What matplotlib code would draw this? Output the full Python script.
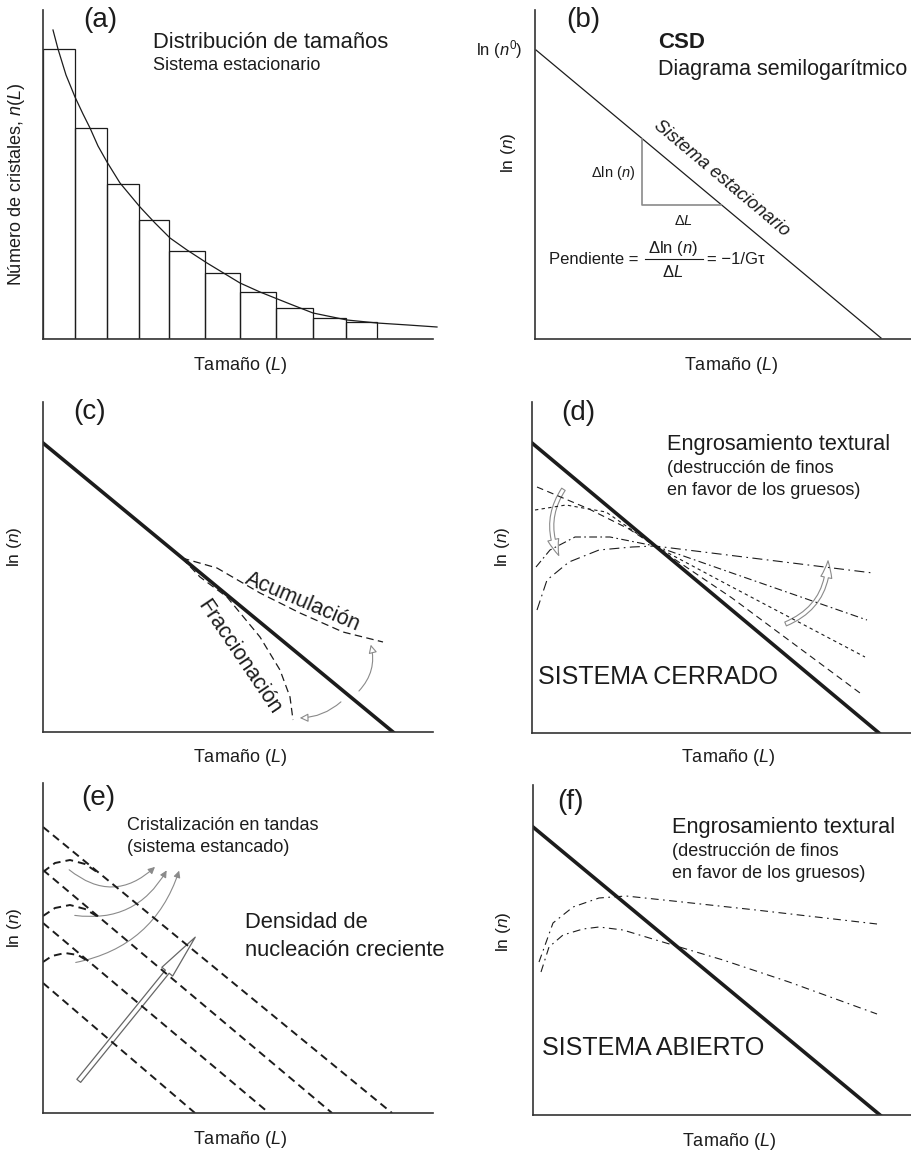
import numpy as np
import matplotlib.pyplot as plt
from matplotlib.patches import FancyArrowPatch

plt.rcParams['font.family'] = ['Liberation Sans', 'DejaVu Sans']
plt.rcParams['mathtext.fontset'] = 'custom'
plt.rcParams['mathtext.rm'] = 'Liberation Sans'
plt.rcParams['mathtext.it'] = 'Liberation Sans:italic'
plt.rcParams['mathtext.bf'] = 'Liberation Sans:bold'

INK = '#1c1c1c'
GREY = '#8a8a8a'

# ---- (a) size distribution (histogram + fitted curve)
bar_edges = [0, 3.2, 6.4, 9.6, 12.6, 16.2, 19.7, 23.3, 27.0, 30.3, 33.4]
bar_heights = [29.0, 21.1, 15.5, 11.9, 8.8, 6.6, 4.7, 3.1, 2.1, 1.7]
curve_a_x = [1.0, 1.5, 2.3, 3.2, 4.0, 4.7, 5.5, 6.4, 7.7, 9.7, 11.2, 12.7,
             14.4, 16.4, 19.7, 21.7, 24.7, 27.0, 30.4, 33.4, 36.5, 39.4]
curve_a_y = [30.9, 29.0, 26.4, 24.2, 22.5, 21.1, 19.3, 17.7, 15.6, 13.2, 11.6, 10.1,
             8.9, 7.6, 5.6, 4.7, 3.5, 2.6, 1.9, 1.6, 1.4, 1.2]

# ---- (b) CSD semilog
csd_x = [0.1, 34.6]
csd_y = [28.9, 0.1]
tri_x = [10.7, 10.7, 18.6]
tri_y = [20.0, 13.4, 13.4]

# ---- (c) accumulation / fractionation
steady_c_x = [0, 35.0]
steady_c_y = [28.9, 0]
acum_x = [13.9, 17.4, 21.7, 25.7, 30.0, 34.0]
acum_y = [17.4, 16.4, 13.9, 11.9, 10.0, 9.0]
frac_x = [13.9, 15.7, 18.4, 21.7, 23.7, 24.7, 25.0]
frac_y = [17.4, 15.5, 13.5, 9.5, 6.2, 3.5, 1.2]

# ---- (d) closed system coarsening
steady_d_x = [0, 34.7]
steady_d_y = [29.0, 0]
coars_d = [
    ([0.5, 5.7, 9.7, 12.3, 20.0, 32.8], [24.6, 22.4, 20.4, 18.7, 13.5, 4.0]),
    ([0.3, 3.4, 7.4, 12.3, 20.0, 33.3], [22.3, 22.8, 22.1, 18.7, 14.6, 7.6]),
    ([0.4, 1.8, 4.3, 7.8, 12.3, 20.0, 33.5], [16.6, 18.3, 19.6, 19.6, 18.7, 16.0, 11.3]),
    ([0.5, 1.5, 3.7, 6.7, 10.0, 12.3, 34.1], [12.3, 15.3, 17.1, 18.3, 18.6, 18.7, 16.0]),
]
coars_d_dash = [(6, 4), (3, 3), (7, 3, 1.5, 3), (9, 4, 1.5, 4)]

# ---- (e) batch crystallisation
batch_lines = [([0, 34.9], [28.6, 0]), ([0, 28.9], [24.3, 0]),
               ([0, 22.6], [19.0, 0]), ([0, 15.2], [13.0, 0])]
humps = [([0, 1.2, 2.7, 4.2, 5.7], [24.1, 25.0, 25.3, 24.9, 23.9]),
         ([0, 1.2, 2.7, 4.2, 5.7], [19.7, 20.5, 20.8, 20.4, 19.5]),
         ([0, 0.9, 2.2, 3.5, 4.7], [15.1, 15.7, 16.0, 15.8, 15.05])]

# ---- (f) open system coarsening
steady_f_x = [0, 34.7]
steady_f_y = [28.8, 0]
open_up_x = [0.6, 2.0, 4.0, 6.6, 9.3, 14.0, 22.3, 34.4]
open_up_y = [15.3, 19.2, 20.8, 21.7, 21.9, 21.4, 20.5, 19.1]
open_lo_x = [0.8, 1.6, 3.0, 5.0, 6.6, 9.0, 12.3, 19.0, 25.6, 34.4]
open_lo_y = [14.3, 16.8, 18.0, 18.6, 18.8, 18.5, 17.5, 15.5, 13.3, 10.1]

W, H = 912, 1154
fig = plt.figure(figsize=(W / 100, H / 100), dpi=100)


def panel(x0, x1, top, base):
    ax = fig.add_axes([x0 / W, 1 - base / H, (x1 - x0) / W, (base - top) / H])
    ax.set_xlim(0, (x1 - x0) / 10)
    ax.set_ylim(0, (base - top) / 10)
    for s in ['top', 'right']:
        ax.spines[s].set_visible(False)
    for s in ['left', 'bottom']:
        ax.spines[s].set_linewidth(1.2)
        ax.spines[s].set_color('#333333')
    ax.set_xticks([])
    ax.set_yticks([])
    ax.patch.set_alpha(0)
    return ax


def txt(ax, x, y, s, size=13, **kw):
    kw.setdefault('ha', 'center')
    kw.setdefault('va', 'center')
    ax.text(x, y, s, fontsize=size, color=INK, clip_on=False, **kw)


def arrow(ax, p0, p1, rad, style, fc='white', ec=GREY, lw=0.8, ms=10):
    a = FancyArrowPatch(p0, p1, connectionstyle=f'arc3,rad={rad}', arrowstyle=style,
                        mutation_scale=ms, fc=fc, ec=ec, lw=lw, clip_on=False)
    ax.add_patch(a)


def size_label(ax, x, y):
    txt(ax, x, y, 'Tamaño ($L$)', 13)


def ln_label(ax, x, y):
    txt(ax, x, y, 'ln ($n$)', 12.5, rotation=90)


# (a)
ax = panel(43, 433, 10, 339)
ax.bar(bar_edges[:-1], bar_heights, width=np.diff(bar_edges), align='edge',
       fill=False, edgecolor=INK, lw=0.9)
ax.plot(curve_a_x, curve_a_y, color=INK, lw=0.9, clip_on=False)
txt(ax, 5.7, 31.9, '(a)', 20)
txt(ax, 11.0, 29.6, 'Distribución de tamaños', 15.8, ha='left')
txt(ax, 11.0, 27.3, 'Sistema estacionario', 13, ha='left')
txt(ax, -2.6, 15.4, 'Número de cristales, $n$($L$)', 13, rotation=90)
size_label(ax, 19.7, -2.7)

# (b)
ax = panel(535, 912, 10, 339)
ax.plot(csd_x, csd_y, color=INK, lw=0.9)
ax.plot(tri_x, tri_y, color=GREY, lw=1.2)
txt(ax, 4.8, 31.9, '(b)', 20)
txt(ax, -1.2, 28.9, 'ln ($n^0$)', 12, ha='right')
ln_label(ax, -2.7, 18.6)
txt(ax, 12.3, 29.6, 'CSD', 16, ha='left', fontweight='bold')
txt(ax, 12.3, 26.9, 'Diagrama semilogarítmico', 15.5, ha='left')
txt(ax, 18.7, 16.1, 'Sistema estacionario', 13.2, rotation=-39.9,
    style='italic', rotation_mode='anchor')
txt(ax, 7.8, 16.6, 'Δln ($n$)', 10.5)
txt(ax, 14.8, 11.8, 'Δ$L$', 10.5)
txt(ax, 1.4, 8.0, 'Pendiente =', 12, ha='left')
txt(ax, 13.8, 9.0, 'Δln ($n$)', 12)
ax.plot([11.0, 16.8], [8.0, 8.0], color=INK, lw=0.8)
txt(ax, 13.8, 6.7, 'Δ$L$', 12)
txt(ax, 17.2, 8.0, '= −1/Gτ', 12, ha='left')
size_label(ax, 19.6, -2.7)

# (c)
ax = panel(43, 433, 402, 732)
ax.plot(steady_c_x, steady_c_y, color=INK, lw=2.6)
ax.plot(acum_x, acum_y, color=INK, lw=0.9, dashes=(6, 3.5))
ax.plot(frac_x, frac_y, color=INK, lw=0.9, dashes=(6, 3.5))
arrow(ax, (31.4, 3.9), (32.7, 9.0), 0.3, '-|>,head_length=0.5,head_width=0.25')
arrow(ax, (30.0, 3.2), (25.4, 1.4), -0.2, '-|>,head_length=0.5,head_width=0.25')
txt(ax, 4.7, 32.0, '(c)', 20)
txt(ax, 26.0, 13.0, 'Acumulación', 15.5, rotation=-23, rotation_mode='anchor')
txt(ax, 19.6, 7.5, 'Fraccionación', 15.5, rotation=-56, rotation_mode='anchor')
ln_label(ax, -2.8, 18.5)
size_label(ax, 19.7, -2.6)

# (d)
ax = panel(532, 912, 402, 733)
ax.plot(steady_d_x, steady_d_y, color=INK, lw=2.6)
for (cx, cy), d in zip(coars_d, coars_d_dash):
    ax.plot(cx, cy, color=INK, lw=0.8, dashes=d)
arrow(ax, (3.3, 24.6), (2.8, 17.5), 0.3, 'simple,head_length=1.2,head_width=0.8,tail_width=0.3')
arrow(ax, (25.1, 10.8), (29.6, 17.5), 0.35, 'simple,head_length=1.2,head_width=0.8,tail_width=0.3')
txt(ax, 4.6, 32.0, '(d)', 20)
txt(ax, 13.5, 28.8, 'Engrosamiento textural', 15.7, ha='left')
txt(ax, 13.5, 26.4, '(destrucción de finos', 13, ha='left')
txt(ax, 13.5, 24.2, 'en favor de los gruesos)', 13, ha='left')
txt(ax, 0.6, 5.6, 'SISTEMA CERRADO', 18, ha='left')
ln_label(ax, -2.9, 18.6)
size_label(ax, 19.6, -2.5)

# (e)
ax = panel(43, 433, 783, 1113)
for lx, ly in batch_lines:
    ax.plot(lx, ly, color=INK, lw=1.4, dashes=(4, 2.6))
for hx, hy in humps:
    ax.plot(hx, hy, color=INK, lw=1.4, dashes=(4, 2.6))
arrow(ax, (2.4, 24.5), (11.4, 24.8), 0.45, '-|>,head_length=0.4,head_width=0.2', fc=GREY)
arrow(ax, (2.9, 19.8), (12.5, 24.5), 0.35, '-|>,head_length=0.4,head_width=0.2', fc=GREY)
arrow(ax, (3.0, 15.0), (13.7, 24.5), 0.3, '-|>,head_length=0.4,head_width=0.2', fc=GREY)
arrow(ax, (3.4, 3.0), (15.4, 17.8), 0.0,
      'simple,head_length=3.2,head_width=1.0,tail_width=0.35', ec='#666666', lw=0.9)
txt(ax, 5.5, 31.5, '(e)', 20)
txt(ax, 8.4, 28.8, 'Cristalización en tandas', 13, ha='left')
txt(ax, 8.4, 26.6, '(sistema estancado)', 13, ha='left')
txt(ax, 20.2, 19.0, 'Densidad de', 15.8, ha='left')
txt(ax, 20.2, 16.3, 'nucleación creciente', 15.8, ha='left')
ln_label(ax, -2.8, 18.5)
size_label(ax, 19.7, -2.7)

# (f)
ax = panel(533, 912, 785, 1115)
ax.plot(steady_f_x, steady_f_y, color=INK, lw=2.6)
ax.plot(open_up_x, open_up_y, color=INK, lw=0.8, dashes=(7, 4, 1.5, 4))
ax.plot(open_lo_x, open_lo_y, color=INK, lw=0.8, dashes=(7, 4, 1.5, 4))
txt(ax, 3.8, 31.3, '(f)', 20)
txt(ax, 13.9, 28.7, 'Engrosamiento textural', 15.7, ha='left')
txt(ax, 13.9, 26.3, '(destrucción de finos', 13, ha='left')
txt(ax, 13.9, 24.2, 'en favor de los gruesos)', 13, ha='left')
txt(ax, 0.9, 6.7, 'SISTEMA ABIERTO', 18, ha='left')
ln_label(ax, -2.9, 18.3)
size_label(ax, 19.6, -2.6)

fig.savefig('out.png', dpi=100)
